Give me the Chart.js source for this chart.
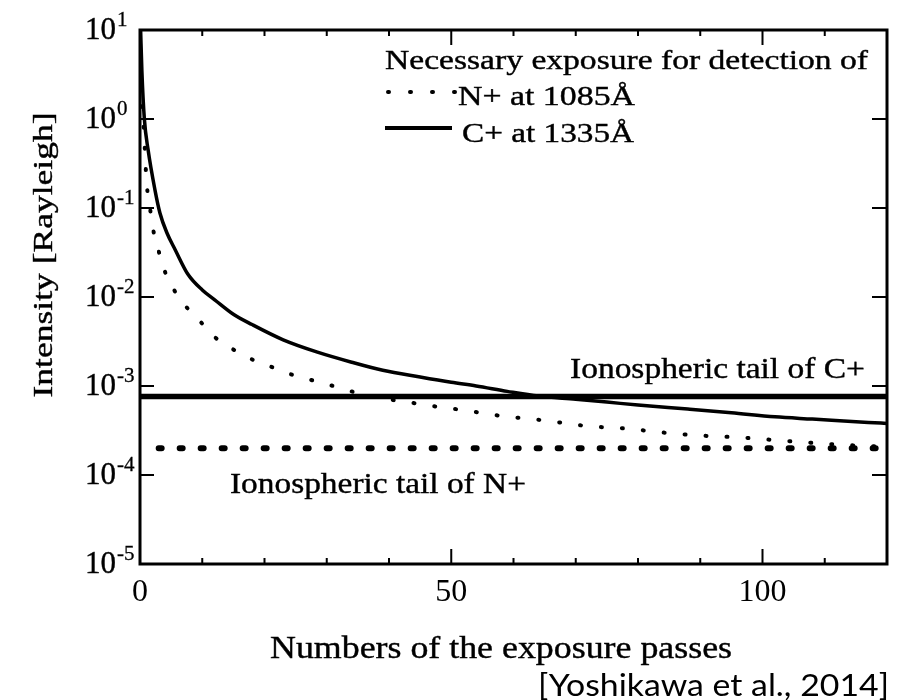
<!DOCTYPE html>
<html><head><meta charset="utf-8">
<script src="https://cdn.jsdelivr.net/npm/chart.js@4.4.1/dist/chart.umd.min.js"></script>
<style>html,body{margin:0;padding:0;background:#fff;} canvas{display:block;}</style>
</head><body>
<canvas id="c" width="902" height="700"></canvas>
<script>
// ---- data ----
const cPasses    = [0.1, 0.3, 0.7, 1.3, 2.4, 3.2, 4.35, 5.65, 7.7, 10, 12, 15, 18, 23, 28.5, 34, 39, 45, 50, 54, 59, 64, 70, 75, 80, 88, 95, 102, 108, 117, 120];
const cIntensity = [10, 3.5, 1.0, 0.45, 0.16, 0.088, 0.052, 0.034, 0.018, 0.012, 0.0093, 0.0064, 0.0049, 0.0033, 0.0024, 0.00185, 0.0015, 0.00126, 0.0011, 0.001, 0.00087, 0.00077, 0.00071, 0.00066, 0.00061, 0.00055, 0.0005, 0.00045, 0.000425, 0.00039, 0.00038];
const nPasses    = [0.4, 0.7, 0.9, 1.1, 1.6, 2.1, 2.9, 3.7, 5.3, 7.4, 9.8, 12.1, 15.3, 18.2, 21.3, 24.7, 28.1, 31.5, 34.8, 41.5, 44.8, 48.1, 51.6, 58.1, 65, 71.8, 78.7, 82, 89, 96, 106, 113, 120];
const nIntensity = [1.4, 0.6, 0.3, 0.18, 0.1, 0.058, 0.035, 0.022, 0.0126, 0.0078, 0.0052, 0.0035, 0.0025, 0.00196, 0.00162, 0.00132, 0.00114, 0.00098, 0.00084, 0.00068, 0.00063, 0.00058, 0.00054, 0.00046, 0.00041, 0.000355, 0.00033, 0.00031, 0.00028, 0.000265, 0.000235, 0.000218, 0.000207];
const cTailPasses = [0, 120];
const cTailLevel  = [7.6e-4, 7.6e-4];
const nTailPasses = [3, 120];
const nTailLevel  = [2.0e-4, 2.0e-4];
const xTickLabels = [0, 50, 100];
const yDecades    = [1, 0, -1, -2, -3, -4, -5];
const legendHeader = 'Necessary exposure for detection of';
const seriesNames  = ['N+ at 1085Å', 'C+ at 1335Å'];
const tailLabels   = ['Ionospheric tail of C+', 'Ionospheric tail of N+'];
const xTitle = 'Numbers of the exposure passes';
const yTitle = 'Intensity [Rayleigh]';
const citation = '[Yoshikawa et al., 2014]';

const pts = (xs, ys) => xs.map((x, i) => ({x, y: ys[i]}));

function stretchText(ctx, s, o) {
  ctx.save();
  ctx.font = o.size + 'px "' + (o.family || 'Liberation Serif') + '"';
  ctx.fillStyle = '#000';
  ctx.strokeStyle = '#000';
  const bold = o.bold === undefined ? 0.4 : o.bold;
  ctx.textBaseline = 'alphabetic';
  ctx.textAlign = 'left';
  const m = ctx.measureText(s).width;
  const sx = o.width ? o.width / m : 1;
  const w = m * sx;
  ctx.translate(o.x, o.y);
  if (o.rotate) ctx.rotate(o.rotate);
  const a = o.align || 'left';
  ctx.translate(a === 'left' ? 0 : a === 'center' ? -w / 2 : -w, 0);
  ctx.scale(sx, 1);
  ctx.fillText(s, 0, 0);
  if (bold > 0) { ctx.lineWidth = bold; ctx.strokeText(s, 0, 0); }
  ctx.restore();
}

const decor = {
  id: 'decor',
  afterDraw(chart) {
    const ctx = chart.ctx, a = chart.chartArea;
    const xs = chart.scales.x, ys = chart.scales.y;
    ctx.save();
    ctx.strokeStyle = '#000';
    ctx.lineWidth = 3;
    ctx.strokeRect(a.left, a.top, a.right - a.left, a.bottom - a.top);
    ctx.lineWidth = 2;
    ctx.beginPath();
    xs.ticks.forEach(t => {
      const px = xs.getPixelForValue(t.value);
      const len = t.value % 50 === 0 ? 15 : 6;
      ctx.moveTo(px, a.bottom); ctx.lineTo(px, a.bottom - len);
      ctx.moveTo(px, a.top); ctx.lineTo(px, a.top + len);
    });
    ys.ticks.forEach(t => {
      const py = ys.getPixelForValue(t.value);
      ctx.moveTo(a.left, py); ctx.lineTo(a.left + 14, py);
      ctx.moveTo(a.right, py); ctx.lineTo(a.right - 15, py);
    });
    ctx.stroke();
    // y tick labels with superscripts
    ys.ticks.forEach(t => {
      const py = ys.getPixelForValue(t.value);
      const e = Math.round(Math.log10(t.value));
      stretchText(ctx, '10', {x: 116, y: py + 9, size: 31, align: 'right'});
      stretchText(ctx, String(e), {x: 117, y: py - 4, size: 21, bold: 0.3});
    });
    // axis titles
    stretchText(ctx, yTitle, {x: 52, y: 255, size: 28, width: 285, align: 'center', rotate: -Math.PI / 2});
    stretchText(ctx, xTitle, {x: 270, y: 658, size: 31, width: 462});
    stretchText(ctx, citation, {x: 889, y: 696, size: 31, family: 'Lato', width: 351, align: 'right', bold: 0});
    // legend
    stretchText(ctx, legendHeader, {x: 385, y: 69, size: 28, width: 483});
    stretchText(ctx, seriesNames[0], {x: 458, y: 105, size: 28, width: 177});
    stretchText(ctx, seriesNames[1], {x: 462, y: 142, size: 28, width: 172});
    ctx.lineCap = 'round';
    ctx.lineWidth = 4;
    ctx.setLineDash([1, 21]);
    ctx.beginPath(); ctx.moveTo(388, 92); ctx.lineTo(458, 92); ctx.stroke();
    ctx.setLineDash([]);
    ctx.lineCap = 'butt';
    ctx.lineWidth = 4;
    ctx.beginPath(); ctx.moveTo(385, 128); ctx.lineTo(452, 128); ctx.stroke();
    // tail annotations
    stretchText(ctx, tailLabels[0], {x: 570, y: 378, size: 30, width: 295});
    stretchText(ctx, tailLabels[1], {x: 230, y: 493, size: 30, width: 296});
    ctx.restore();
  }
};

new Chart(document.getElementById('c'), {
  type: 'line',
  data: {
    datasets: [
      {label: 'Ionospheric tail of C+', data: pts(cTailPasses, cTailLevel), borderColor: '#000', borderWidth: 5.5, pointRadius: 0},
      {label: 'Ionospheric tail of N+', data: pts(nTailPasses, nTailLevel), borderColor: '#000', borderWidth: 6, borderDash: [3, 18], borderCapStyle: 'round', pointRadius: 0},
      {label: seriesNames[1], data: pts(cPasses, cIntensity), borderColor: '#000', borderWidth: 3.5, pointRadius: 0, cubicInterpolationMode: 'monotone'},
      {label: seriesNames[0], data: pts(nPasses, nIntensity), borderColor: '#000', borderWidth: 4, borderDash: [1, 20], borderCapStyle: 'round', pointRadius: 0, cubicInterpolationMode: 'monotone'}
    ]
  },
  options: {
    responsive: false,
    animation: false,
    devicePixelRatio: 1,
    layout: {padding: {left: 0, right: 15, top: 30, bottom: 0}},
    plugins: {legend: {display: false}, tooltip: {enabled: false}, title: {display: false}},
    scales: {
      x: {
        type: 'linear', min: 0, max: 120,
        grid: {display: false, drawTicks: false},
        border: {display: false},
        ticks: {
          stepSize: 10, autoSkip: false, maxRotation: 0, padding: 9,
          color: '#000', font: {family: 'Liberation Serif', size: 32},
          callback: v => xTickLabels.includes(v) ? String(v) : ''
        },
        afterFit: s => { s.height = 136; }
      },
      y: {
        type: 'logarithmic', min: 1e-5, max: 10,
        grid: {display: false, drawTicks: false},
        border: {display: false},
        ticks: {display: false},
        afterBuildTicks: s => { s.ticks = yDecades.map(e => ({value: Math.pow(10, e)})); },
        afterFit: s => { s.width = 140; }
      }
    }
  },
  plugins: [decor]
});
</script></body></html>
